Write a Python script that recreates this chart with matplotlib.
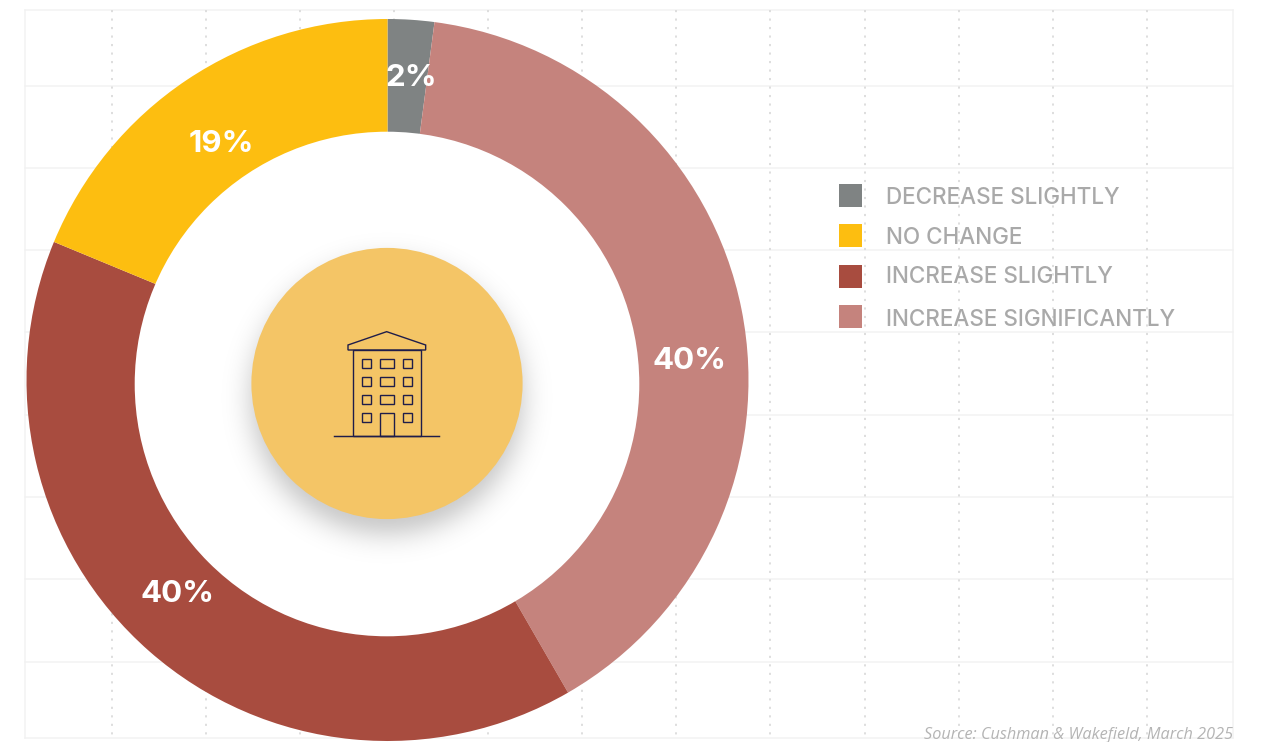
import numpy as np
import matplotlib
matplotlib.use("Agg")
import matplotlib.pyplot as plt
from matplotlib.patches import Circle, Rectangle, Polygon

categories = ["DECREASE SLIGHTLY", "INCREASE SIGNIFICANTLY", "INCREASE SLIGHTLY", "NO CHANGE"]
values = [2.08, 39.6, 39.6, 18.76]
labels = ["2%", "40%", "40%", "19%"]
colors = ["#7F8383", "#C5837D", "#A84C3F", "#FDBE10"]
legend_order = ["DECREASE SLIGHTLY", "NO CHANGE", "INCREASE SLIGHTLY", "INCREASE SIGNIFICANTLY"]
source = "Source: Cushman & Wakefield, March 2025"

W, H = 1265, 742
def Y(py):
    return H - py

fig = plt.figure(figsize=(W / 100, H / 100), dpi=100, facecolor="white")
ax = fig.add_axes([0, 0, 1, 1])

# background lattice
for py in [10, 86, 168, 250, 332, 415, 497, 579, 662, 738]:
    ax.plot([25, 1233], [Y(py), Y(py)], color="#F2F2F2", lw=1.1, zorder=1)
for px in [25, 1233]:
    ax.plot([px, px], [Y(10), Y(738)], color="#F2F2F2", lw=1.1, zorder=1)
for px in [112, 206, 300, 394, 488, 582, 676, 770, 865, 959, 1053, 1147]:
    ax.plot([px, px], [Y(10), Y(738)], color="#DEDEDE", lw=1.4,
            linestyle=(0, (1.1, 3.27)), zorder=1)

# donut
ax.pie(values, colors=colors, startangle=90, counterclock=False,
       center=(387.5, Y(380)), radius=361, frame=True,
       wedgeprops=dict(linewidth=0, zorder=2))
ax.add_patch(Circle((387, Y(384)), 252.3, fc="white", ec="none", zorder=3))

# centre disc with soft shadow
gx, gy = np.meshgrid(np.arange(200, 580), np.arange(200, 580))
dist = np.hypot(gx + 0.5 - 387, gy + 0.5 - 398)
alpha = 0.20 * np.exp(-(np.clip(dist - 118, 0, None) / 24) ** 2)
rgba = np.zeros(gx.shape + (4,))
rgba[..., 3] = alpha
ax.imshow(rgba, extent=(200, 580, Y(580), Y(200)), origin="upper",
          interpolation="bilinear", zorder=4)
ax.add_patch(Circle((387, Y(383.5)), 135.6, fc="#F4C566", ec="none", zorder=5))

# building icon
ink = "#1F1D4A"
def ix(v):
    return 320 + v / 3
def iy(v):
    return Y(310 + v / 3)
def box(x0, y0, x1, y1):
    ax.add_patch(Rectangle((ix(x0), iy(y1)), (x1 - x0) / 3, (y1 - y0) / 3,
                           fc="none", ec=ink, lw=1.0, zorder=6))
roof = [(84, 105), (200, 65), (317, 105), (317, 120), (84, 120)]
ax.add_patch(Polygon([(ix(a), iy(b)) for a, b in roof], closed=True,
                     fc="none", ec=ink, lw=1.0, zorder=6))
box(98, 120, 303, 378)
ax.plot([ix(42), ix(358)], [iy(378), iy(378)], color=ink, lw=1.05, zorder=6)
for y0, y1 in [(146, 175), (200, 229), (255, 283)]:
    for x0, x1 in [(125, 154), (180, 222), (248, 277)]:
        box(x0, y0, x1, y1)
box(125, 309, 154, 337)
box(248, 309, 277, 337)
box(181, 309, 222, 378)

# value labels
label_pos = [(411, 78), (690, 361), (177, 594), (221, 144)]
for text, (px, py) in zip(labels, label_pos):
    ax.text(px, Y(py), text, color="white", fontsize=22.5, fontweight="bold",
            family="Inter", ha="center", va="center", zorder=7)

# legend
swatch_y = [184, 224, 265, 305]
text_y = [197.5, 237.5, 277, 319.5]
color_of = dict(zip(categories, colors))
for name, sy, ty in zip(legend_order, swatch_y, text_y):
    ax.add_patch(Rectangle((839, Y(sy + 23)), 23, 23, fc=color_of[name], ec="none", zorder=6))
    ax.text(886, Y(ty), name, color="#A9A9A9", fontsize=16.2, fontweight="medium",
            family="Inter", ha="left", va="center", zorder=6)

ax.text(1233, Y(735), source, color="#B4B4B4", fontsize=11.7, style="italic",
        family="Open Sans", ha="right", va="center", zorder=6)

ax.set_xlim(0, W)
ax.set_ylim(0, H)
ax.set_aspect("auto")
ax.set_xticks([])
ax.set_yticks([])
ax.set_frame_on(False)
fig.savefig("out.png", dpi=100, facecolor="white")
